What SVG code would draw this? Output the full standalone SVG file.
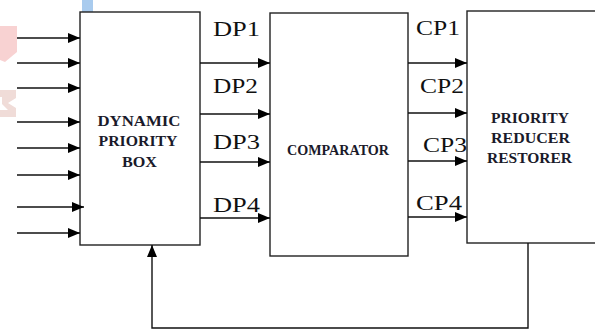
<svg xmlns="http://www.w3.org/2000/svg" width="595" height="329" viewBox="0 0 595 329">
<defs>
<marker id="ah" markerWidth="12" markerHeight="10" refX="12" refY="5" orient="auto" markerUnits="userSpaceOnUse">
<path d="M0,0 L12,5 L0,10 Z" fill="#000"/>
</marker>
<style>
.box{fill:#fff;stroke:#222;stroke-width:1.4}
.ln{stroke:#111;stroke-width:1.4;fill:none}
.lbl{font-family:"Liberation Serif",serif;font-size:20px;fill:#111}
.nt{font-family:"Liberation Serif",serif;font-size:15px;font-weight:bold;fill:#1a1a2a}
</style>
</defs>
<rect width="595" height="329" fill="#fff"/>
<g id="watermark">
<rect x="82" y="0" width="11" height="12" fill="#a9cbee"/>
<path d="M0,26 L17,26 L17,52 L5,62 L0,60 Z" fill="#f8d2d2"/>
<path d="M0,90 L16,90 L16,98 L8,103 L16,108 L16,117 L0,117 L0,110 L8,110 L2,104 L2,97 L0,97 Z" fill="#f0dcd8"/>
</g>
<g id="dynamic-priority-box">
<rect class="box" x="80" y="12" width="120" height="233"/>
<text class="nt" x="139" y="126" text-anchor="middle" textLength="83" lengthAdjust="spacingAndGlyphs">DYNAMIC</text>
<text class="nt" x="138" y="146" text-anchor="middle" textLength="79" lengthAdjust="spacingAndGlyphs">PRIORITY</text>
<text class="nt" x="139.5" y="167" text-anchor="middle" textLength="35" lengthAdjust="spacingAndGlyphs">BOX</text>
</g>
<g id="comparator">
<rect class="box" x="270" y="13" width="138" height="243"/>
<text class="nt" x="338" y="155" text-anchor="middle" textLength="102" lengthAdjust="spacingAndGlyphs">COMPARATOR</text>
</g>
<g id="priority-reducer-restorer">
<rect class="box" x="467" y="11" width="140" height="232"/>
<text class="nt" x="530" y="123" text-anchor="middle" textLength="78" lengthAdjust="spacingAndGlyphs">PRIORITY</text>
<text class="nt" x="530.5" y="143" text-anchor="middle" textLength="79" lengthAdjust="spacingAndGlyphs">REDUCER</text>
<text class="nt" x="529.5" y="163" text-anchor="middle" textLength="85" lengthAdjust="spacingAndGlyphs">RESTORER</text>
</g>
<g id="connectors">
<line class="ln" x1="17" y1="38" x2="80" y2="38" marker-end="url(#ah)"/>
<line class="ln" x1="17" y1="63" x2="80" y2="63" marker-end="url(#ah)"/>
<line class="ln" x1="17" y1="88" x2="80" y2="88" marker-end="url(#ah)"/>
<line class="ln" x1="17" y1="122" x2="80" y2="122" marker-end="url(#ah)"/>
<line class="ln" x1="17" y1="148" x2="80" y2="148" marker-end="url(#ah)"/>
<line class="ln" x1="17" y1="175" x2="80" y2="175" marker-end="url(#ah)"/>
<line class="ln" x1="17" y1="207" x2="84" y2="207" marker-end="url(#ah)"/>
<line class="ln" x1="17" y1="233" x2="80" y2="233" marker-end="url(#ah)"/>
<line class="ln" x1="200" y1="63" x2="270" y2="63" marker-end="url(#ah)"/>
<line class="ln" x1="200" y1="114" x2="270" y2="114" marker-end="url(#ah)"/>
<line class="ln" x1="200" y1="162" x2="270" y2="162" marker-end="url(#ah)"/>
<line class="ln" x1="200" y1="218" x2="270" y2="218" marker-end="url(#ah)"/>
<line class="ln" x1="408" y1="63" x2="467" y2="63" marker-end="url(#ah)"/>
<line class="ln" x1="408" y1="113" x2="467" y2="113" marker-end="url(#ah)"/>
<line class="ln" x1="408" y1="161" x2="467" y2="161" marker-end="url(#ah)"/>
<line class="ln" x1="408" y1="217" x2="467" y2="217" marker-end="url(#ah)"/>
<polyline class="ln" points="528,243 528,328 152,328 152,245" marker-end="url(#ah)"/>
<text class="lbl" x="213" y="36" textLength="47" lengthAdjust="spacingAndGlyphs">DP1</text>
<text class="lbl" x="213" y="93" textLength="45" lengthAdjust="spacingAndGlyphs">DP2</text>
<text class="lbl" x="213" y="149" textLength="47" lengthAdjust="spacingAndGlyphs">DP3</text>
<text class="lbl" x="213" y="212" textLength="47" lengthAdjust="spacingAndGlyphs">DP4</text>
<text class="lbl" x="416" y="35" textLength="44" lengthAdjust="spacingAndGlyphs">CP1</text>
<text class="lbl" x="420" y="93" textLength="44" lengthAdjust="spacingAndGlyphs">CP2</text>
<text class="lbl" x="423" y="152" textLength="44" lengthAdjust="spacingAndGlyphs">CP3</text>
<text class="lbl" x="416" y="210" textLength="46" lengthAdjust="spacingAndGlyphs">CP4</text>
</g>
</svg>
